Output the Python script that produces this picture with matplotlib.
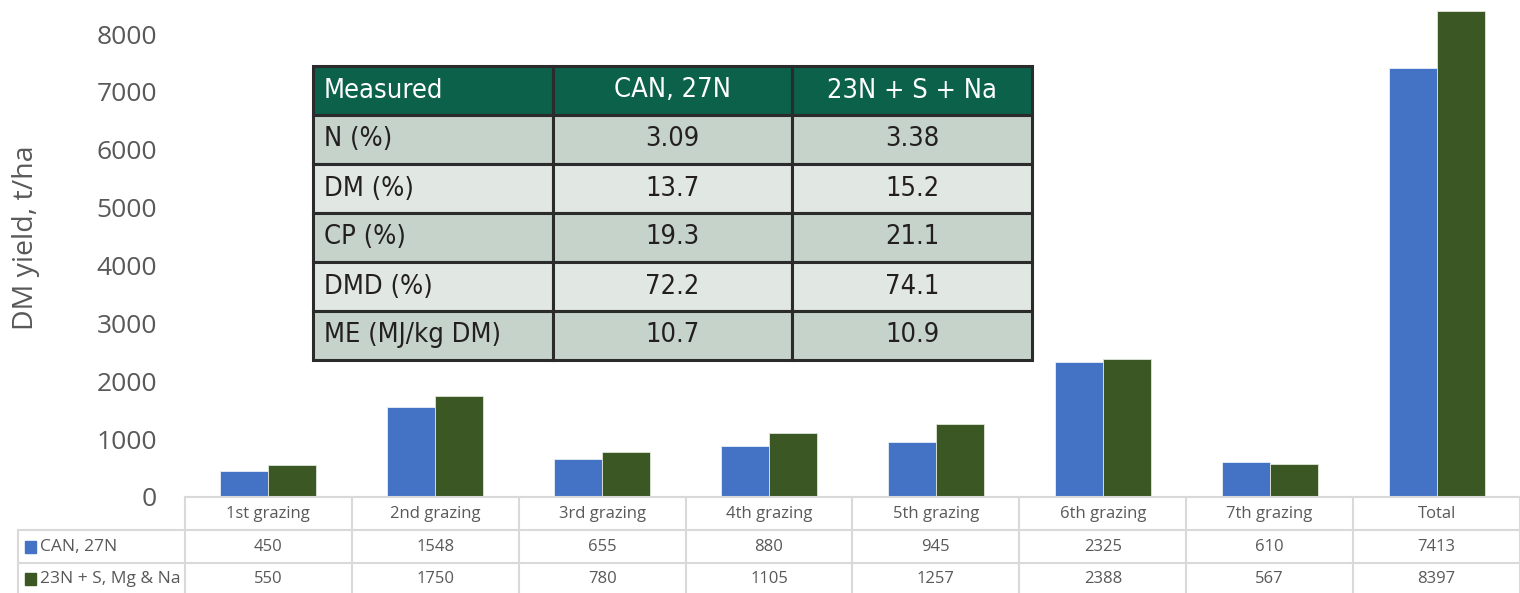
import matplotlib.pyplot as plt
from matplotlib.patches import Rectangle
import numpy as np

# chart data
categories = ['1st grazing', '2nd grazing', '3rd grazing', '4th grazing',
              '5th grazing', '6th grazing', '7th grazing', 'Total']
series_names = ['CAN, 27N', '23N + S, Mg & Na']
can_27n = [450, 1548, 655, 880, 945, 2325, 610, 7413]
n23_s_mg_na = [550, 1750, 780, 1105, 1257, 2388, 567, 8397]
yticks = [0, 1000, 2000, 3000, 4000, 5000, 6000, 7000, 8000]

# inset table data
inset_header = ['Measured', 'CAN, 27N', '23N + S + Na']
inset_rows = ['N (%)', 'DM (%)', 'CP (%)', 'DMD (%)', 'ME (MJ/kg DM)']
inset_can = ['3.09', '13.7', '19.3', '72.2', '10.7']
inset_sna = ['3.38', '15.2', '21.1', '74.1', '10.9']

colors = ['#4472c4', '#3a5724']
grey_txt = '#595959'
grid_col = '#d9d9d9'

plt.rcParams['font.family'] = ['Open Sans', 'DejaVu Sans']

W, H = 1520, 593
fig = plt.figure(figsize=(W / 100, H / 100), dpi=100)

def fx(px):
    return px / W

def fy(py):
    return 1 - py / H

#Main bar axes
ax = fig.add_axes([fx(185), fy(497), 1 - fx(185), fy(0) - fy(497)])
x = np.arange(len(categories))
bw = 0.288
ax.bar(x - bw / 2, can_27n, bw, color=colors[0], edgecolor='#e8eef8', linewidth=0.6, zorder=2)
ax.bar(x + bw / 2, n23_s_mg_na, bw, color=colors[1], edgecolor='#dfe6da', linewidth=0.6, zorder=2)
ax.set_xlim(-0.5, len(categories) - 0.5)
ax.set_ylim(0, 497 / 463 * 8000)
ax.set_yticks(yticks)
ax.set_yticklabels([str(t) for t in yticks], fontsize=19, color=grey_txt)
ax.tick_params(axis='y', length=0, pad=20)
ax.set_xticks([])
for s in ax.spines.values():
    s.set_visible(False)
ax.patch.set_alpha(0)

fig.text(fx(26), fy(238), 'DM yield, t/ha', rotation=90, ha='center', va='center',
         fontsize=20.5, color=grey_txt)

#Data table below the chart
col_w = (W - 185) / len(categories)
row_lines = [497, 530, 563]
for i, yy in enumerate(row_lines):
    x0 = 185 if i == 0 else 18
    fig.add_artist(plt.Line2D([fx(x0), 1], [fy(yy), fy(yy)], color=grid_col, lw=1.5))
fig.add_artist(plt.Line2D([fx(18), fx(18)], [fy(530), 0], color=grid_col, lw=1.5))
for k in range(len(categories) + 1):
    xx = 185 + k * col_w
    fig.add_artist(plt.Line2D([fx(xx), fx(xx)], [fy(497), 0], color=grid_col, lw=1.5))

for k, cat in enumerate(categories):
    cx = fx(185 + (k + 0.5) * col_w)
    fig.text(cx, fy(514), cat, ha='center', va='center', fontsize=12, color=grey_txt)
    fig.text(cx, fy(547), str(can_27n[k]), ha='center', va='center', fontsize=12, color=grey_txt)
    fig.text(cx, fy(579), str(n23_s_mg_na[k]), ha='center', va='center', fontsize=12, color=grey_txt)

for i, (name, c) in enumerate(zip(series_names, colors)):
    yc = [547, 579][i]
    fig.add_artist(Rectangle((fx(25), fy(yc + 6)), fx(11), fy(yc - 6) - fy(yc + 6), color=c))
    fig.text(fx(40), fy(yc), name, ha='left', va='center', fontsize=12.5, color=grey_txt)

#Inset table
tx0, ty0, tx1, ty1 = 313, 66, 1032, 360
tab = fig.add_axes([fx(tx0), fy(ty1), fx(tx1) - fx(tx0), fy(ty0) - fy(ty1)])
tab.set_xlim(0, 3)
tab.set_ylim(len(inset_rows) + 1, 0)
tab.axis('off')
fills = ['#0b6149'] + ['#c5d3cb' if r % 2 == 0 else '#e1e8e3' for r in range(len(inset_rows))]
for r in range(len(inset_rows) + 1):
    for c in range(3):
        tab.add_patch(Rectangle((c, r), 1, 1, facecolor=fills[r], edgecolor='#2b2b2b',
                                linewidth=2.2, clip_on=False))
tk = dict(fontsize=19.5, family='DejaVu Sans', fontstretch='condensed')
tab.text(0.046, 0.5, inset_header[0], ha='left', va='center', color='white', **tk)
for c in (1, 2):
    tab.text(c + 0.5, 0.5, inset_header[c], ha='center', va='center', color='white', **tk)
for r, (lab, v1, v2) in enumerate(zip(inset_rows, inset_can, inset_sna)):
    yy = r + 1.5
    tab.text(0.046, yy, lab, ha='left', va='center', color='#231f20', **tk)
    tab.text(1.5, yy, v1, ha='center', va='center', color='#231f20', **tk)
    tab.text(2.5, yy, v2, ha='center', va='center', color='#231f20', **tk)

fig.savefig('out.png', dpi=100)
